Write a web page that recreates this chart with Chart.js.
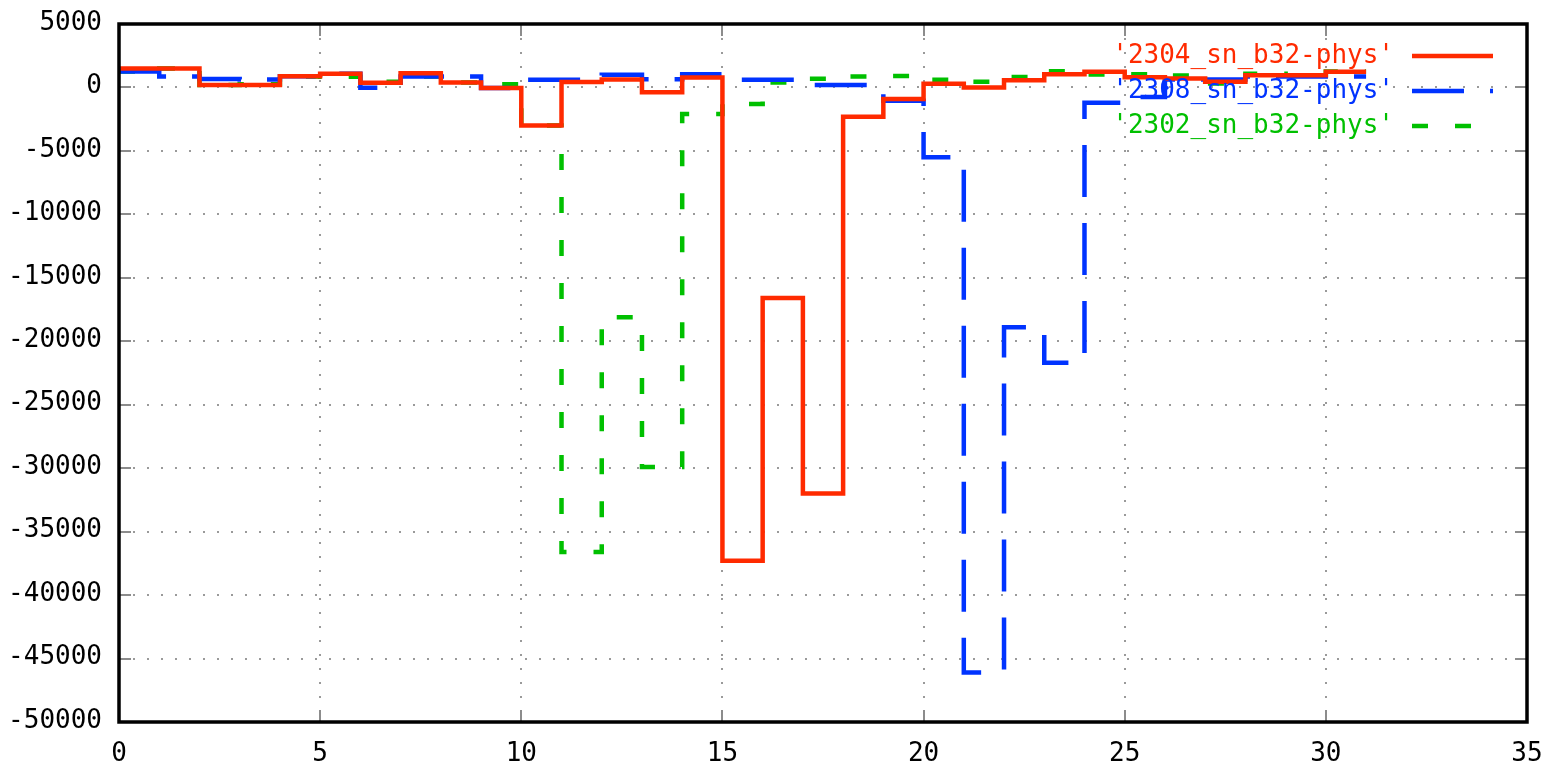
<!DOCTYPE html>
<html>
<head>
<meta charset="utf-8">
<title>sn_b32-phys</title>
<script src="https://cdn.jsdelivr.net/npm/chart.js@4.4.1/dist/chart.umd.min.js"></script>
<style>
  html, body { margin: 0; padding: 0; background: #ffffff; }
  canvas { display: block; }
</style>
</head>
<body>
<canvas id="c" width="1547" height="770"></canvas>
<script>
// Sample index (x) shared by all runs
const xIndex = [0, 1, 2, 3, 4, 5, 6, 7, 8, 9, 10, 11, 12, 13, 14, 15,
                16, 17, 18, 19, 20, 21, 22, 23, 24, 25, 26, 27, 28, 29, 30, 31];

// Run labels
const seriesNames = ["'2304_sn_b32-phys'", "'2308_sn_b32-phys'", "'2302_sn_b32-phys'"];

// Per-run values
const run2304 = [1500, 1500, 200, 200, 880, 1080, 380, 1120, 400, -50, -3000, 420, 620, -380, 780,
                 -37300, -16600, -32000, -2300, -900, 300, 0, 575, 1050, 1230, 800, 700, 450, 970, 970, 1230, 1230];
const run2308 = [1260, 870, 660, 630, 890, 1080, -20, 870, 870, -50, 600, 600, 1000, 650, 1050,
                 600, 600, 200, 200, -1050, -5500, -46100, -18900, -21700, -1200, -750, 630, 630, 870, 870, 870, 870];
const run2302 = [1260, 1500, 200, 250, 870, 850, 440, 870, 400, 250, -3000, -36600, -18100, -29900, -2100,
                 -1300, 400, 680, 870, 900, 600, 450, 830, 1280, 1020, 1050, 950, 320, 1080, 950, 1250, 1250];

// Axis ranges and tick spacing
const xRange = [0, 35];
const xStep = 5;
const yRange = [-50000, 5000];
const yStep = 5000;

const FONT = '"DejaVu Sans Mono", "Liberation Mono", monospace';
const FONT_SIZE = 26;

function points(values) {
  return values.map((v, i) => ({ x: xIndex[i], y: v }));
}

// Inward tick marks on all four sides of the frame
const tickMarks = {
  id: 'tickMarks',
  beforeDatasetsDraw(chart) {
    const { ctx, chartArea: a, scales } = chart;
    const len = 12;
    ctx.save();
    ctx.strokeStyle = '#8c8c8c';
    ctx.lineWidth = 2;
    ctx.beginPath();
    scales.x.ticks.forEach(t => {
      const px = Math.round(scales.x.getPixelForValue(t.value));
      ctx.moveTo(px, a.bottom); ctx.lineTo(px, a.bottom - len);
      ctx.moveTo(px, a.top); ctx.lineTo(px, a.top + len);
    });
    scales.y.ticks.forEach(t => {
      const py = Math.round(scales.y.getPixelForValue(t.value));
      ctx.moveTo(a.left, py); ctx.lineTo(a.left + len, py);
      ctx.moveTo(a.right, py); ctx.lineTo(a.right - len, py);
    });
    ctx.stroke();
    ctx.restore();
  }
};

// Heavy black frame round the plot area
const frame = {
  id: 'frame',
  afterDatasetsDraw(chart) {
    const { ctx, chartArea: a } = chart;
    ctx.save();
    ctx.strokeStyle = '#000000';
    ctx.lineWidth = 3.5;
    ctx.setLineDash([]);
    ctx.strokeRect(a.left, a.top, a.right - a.left, a.bottom - a.top);
    ctx.restore();
  }
};

// Key in the upper right: right-justified name followed by a line sample
const key = {
  id: 'key',
  afterDatasetsDraw(chart) {
    const { ctx, chartArea: a } = chart;
    ctx.save();
    ctx.font = FONT_SIZE + 'px ' + FONT;
    ctx.textAlign = 'right';
    ctx.textBaseline = 'middle';
    chart.data.datasets.forEach((ds, i) => {
      const y = a.top + 32 + i * 35;
      ctx.fillStyle = ds.borderColor;
      ctx.fillText(ds.label, a.right - 133, y);
      ctx.strokeStyle = ds.borderColor;
      ctx.lineWidth = ds.borderWidth;
      ctx.lineCap = 'butt';
      ctx.setLineDash(ds.borderDash || []);
      ctx.beginPath();
      ctx.moveTo(a.right - 115, y);
      ctx.lineTo(a.right - 34, y);
      ctx.stroke();
    });
    ctx.restore();
  }
};

const lineStyle = {
  pointRadius: 0,
  pointHoverRadius: 0,
  borderWidth: 4.5,
  stepped: 'before',
  fill: false,
  borderJoinStyle: 'miter',
  borderCapStyle: 'butt',
  tension: 0
};

new Chart(document.getElementById('c'), {
  type: 'line',
  data: {
    datasets: [
      Object.assign({ label: seriesNames[0], data: points(run2304), borderColor: '#ff2a00', borderDash: [] }, lineStyle),
      Object.assign({ label: seriesNames[1], data: points(run2308), borderColor: '#0033ff', borderDash: [52, 26] }, lineStyle),
      Object.assign({ label: seriesNames[2], data: points(run2302), borderColor: '#00c000', borderDash: [16, 27] }, lineStyle)
    ]
  },
  options: {
    responsive: false,
    animation: false,
    devicePixelRatio: 1,
    layout: { padding: { top: 24, right: 20, left: 0, bottom: 0 } },
    plugins: {
      legend: { display: false },
      tooltip: { enabled: false },
      title: { display: false }
    },
    scales: {
      x: {
        type: 'linear',
        min: xRange[0],
        max: xRange[1],
        afterFit: s => { s.height = 48; s.paddingLeft = 0; s.paddingRight = 0; },
        ticks: {
          stepSize: xStep,
          color: '#000000',
          font: { family: FONT, size: FONT_SIZE },
          padding: 17,
          maxRotation: 0,
          callback: v => String(v)
        },
        grid: { color: '#9a9a9a', lineWidth: 2, drawTicks: false },
        border: { display: false, dash: [2, 12] }
      },
      y: {
        type: 'linear',
        min: yRange[0],
        max: yRange[1],
        afterFit: s => { s.width = 119; s.paddingTop = 0; s.paddingBottom = 0; },
        ticks: {
          stepSize: yStep,
          color: '#000000',
          font: { family: FONT, size: FONT_SIZE },
          padding: 17,
          labelOffset: -1,
          callback: v => String(v)
        },
        grid: { color: '#9a9a9a', lineWidth: 2, drawTicks: false },
        border: { display: false, dash: [2, 12] }
      }
    }
  },
  plugins: [tickMarks, frame, key]
});
</script>
</body>
</html>
